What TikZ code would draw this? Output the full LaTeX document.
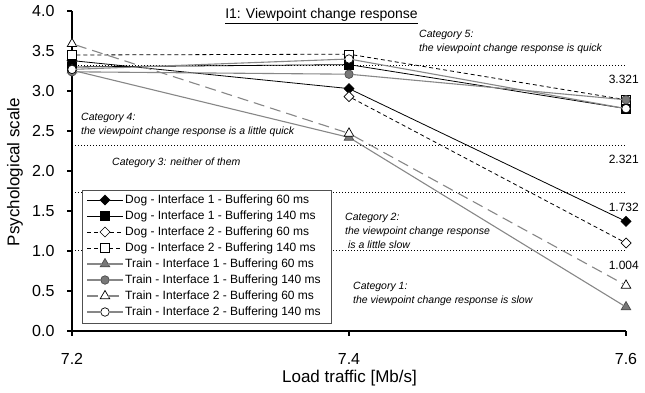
\documentclass[tikz,border=0pt]{standalone}
\usepackage{fontspec}
\setmainfont{Liberation Sans}
\usetikzlibrary{shapes.geometric,positioning}

\definecolor{linegray}{HTML}{878787}
\definecolor{markgray}{HTML}{787878}
\definecolor{rimgray}{HTML}{4A4A4A}
\definecolor{boxgray}{HTML}{505050}

\tikzset{
  axis/.style={black, line width=1.1pt},
  guide/.style={black, line width=0.8pt, dash pattern=on 0.8pt off 2.2pt},
  mk/.style={draw=black, line width=0.7pt, inner sep=0pt, outer sep=0pt},
  dia/.style={mk, diamond, minimum size=10pt},
  sqr/.style={mk, rectangle, minimum size=8.5pt},
  tri/.style={mk, regular polygon, regular polygon sides=3, minimum size=11pt},
  rnd/.style={mk, circle, minimum size=8.5pt},
  % one line style and one marker style per series
  s1/.style={black, line width=0.8pt},
  s2/.style={s1},
  s3/.style={s1, dash pattern=on 4pt off 3pt},
  s4/.style={s3},
  s5/.style={linegray, line width=1.1pt},
  s6/.style={s5},
  s7/.style={s5, dash pattern=on 11pt off 6pt},
  s8/.style={s5},
  m1/.style={dia, fill=black},
  m2/.style={sqr, fill=black},
  m3/.style={dia, fill=white},
  m4/.style={sqr, fill=white},
  m5/.style={tri, fill=markgray, draw=rimgray},
  m6/.style={rnd, fill=markgray, draw=rimgray},
  m7/.style={tri, fill=white},
  m8/.style={rnd, fill=white},
  ticktext/.style={font=\fontsize{16}{19}\selectfont, inner sep=0pt},
  axtext/.style={font=\fontsize{17}{20}\selectfont, inner sep=0pt},
  valtext/.style={font=\fontsize{12}{14}\selectfont, inner sep=0pt},
  legtext/.style={font=\fontsize{12}{14}\selectfont, inner sep=0pt},
  cattext/.style={font=\fontsize{10.5}{14}\selectfont\itshape, align=left, inner sep=0pt}
}

\begin{document}
\begin{tikzpicture}[x=1pt, y=1pt]
  \useasboundingbox (0,0) rectangle (645,392);

  % plot area: x = 0,1,2 for 7.2, 7.4, 7.6
  \begin{scope}[xshift=72pt, yshift=61pt, x=277pt, y=80pt]
    % category borders
    \foreach \g/\v in {5/3.321, 4/2.321, 3/1.732, 2/1.004} {
      \coordinate (ga\g) at (0,\v);
      \coordinate (gb\g) at (2,\v);
      \draw[guide] (ga\g) -- (gb\g);
      \node[valtext, anchor=north east] (gv\g) at ([xshift=13pt, yshift=-10pt]gb\g) {\v};
    }

    % axes
    \coordinate (o) at (0,0);
    \coordinate (ytop) at (0,4);
    \coordinate (xend) at (2,0);
    \draw[axis] (ytop) -- (o) -- (xend);
    \foreach \v [count=\k] in {0.0,0.5,1.0,1.5,2.0,2.5,3.0,3.5,4.0}
      \draw[axis] (0,\v) -- ++(-5pt,0) node[ticktext, left=12pt] (yt\k) {\v};
    \foreach \x/\t in {0/7.2, 1/7.4, 2/7.6}
      \draw[axis] (\x,0) -- ++(0,-5pt) node[ticktext, below=17pt] (xt\x) {\t};

    % series
    \foreach \i/\a/\b/\c in {1/3.38/3.03/1.37, 2/3.30/3.33/2.78, 4/3.45/3.46/2.89,
                             5/3.26/2.42/0.30, 6/3.24/3.21/2.89, 7/3.59/2.47/0.57,
                             8/3.27/3.40/2.78} {
      \node[m\i] (pa\i) at (0,\a) {};
      \node[m\i] (pb\i) at (1,\b) {};
      \node[m\i] (pc\i) at (2,\c) {};
      \draw[s\i] (pa\i) -- (pb\i) -- (pc\i);
    }
    % Dog - Interface 2 - 60 ms has no value at 7.2
    \node[m3] (pb3) at (1,2.93) {};
    \node[m3] (pc3) at (2,1.10) {};
    \draw[s3] (pb3) -- (pc3);
  \end{scope}

  % legend
  \node[draw=boxgray, line width=0.8pt, fill=white, anchor=north west,
        minimum width=249pt, minimum height=133pt, inner sep=0pt] (legbox) at (82,202) {};
  \foreach \i/\txt in {1/Dog - Interface 1 - Buffering 60 ms,
                       2/Dog - Interface 1 - Buffering 140 ms,
                       3/Dog - Interface 2 - Buffering 60 ms,
                       4/Dog - Interface 2 - Buffering 140 ms,
                       5/Train - Interface 1 - Buffering 60 ms,
                       6/Train - Interface 1 - Buffering 140 ms,
                       7/Train - Interface 2 - Buffering 60 ms,
                       8/Train - Interface 2 - Buffering 140 ms} {
    \coordinate (la\i) at (87,208-16*\i);
    \node[m\i] (lm\i) at (105,208-16*\i) {};
    \coordinate (lb\i) at (123,208-16*\i);
    \draw[s\i] (la\i) -- (lm\i) -- (lb\i);
    \node[legtext, anchor=west] (lt\i) at (125,208-16*\i) {\txt};
  }

  % titles
  \node[font=\fontsize{14}{16}\selectfont, inner sep=0pt, anchor=base] (ttl) at (321.5,373)
    {\underline{I1: Viewpoint change response}};
  \node[axtext, rotate=90] (ylab) at (15,220) {Psychological scale};
  \node[axtext, anchor=base] (xlab) at (349.5,9.5) {Load traffic [Mb/s]};

  % categories
  \node[cattext, anchor=west] (c5) at (419,350)
    {Category 5:\\the viewpoint change response is quick};
  \node[cattext, anchor=west] (c4) at (81,267)
    {Category 4:\\the viewpoint change response is a little quick};
  \node[cattext, anchor=west] (c3) at (112,229) {Category 3: neither of them};
  \node[cattext, anchor=west] (c2) at (345,161)
    {Category 2:\\the viewpoint change response\\~is a little slow};
  \node[cattext, anchor=west] (c1) at (353,98.5)
    {Category 1:\\the viewpoint change response is slow};
\end{tikzpicture}
\end{document}
